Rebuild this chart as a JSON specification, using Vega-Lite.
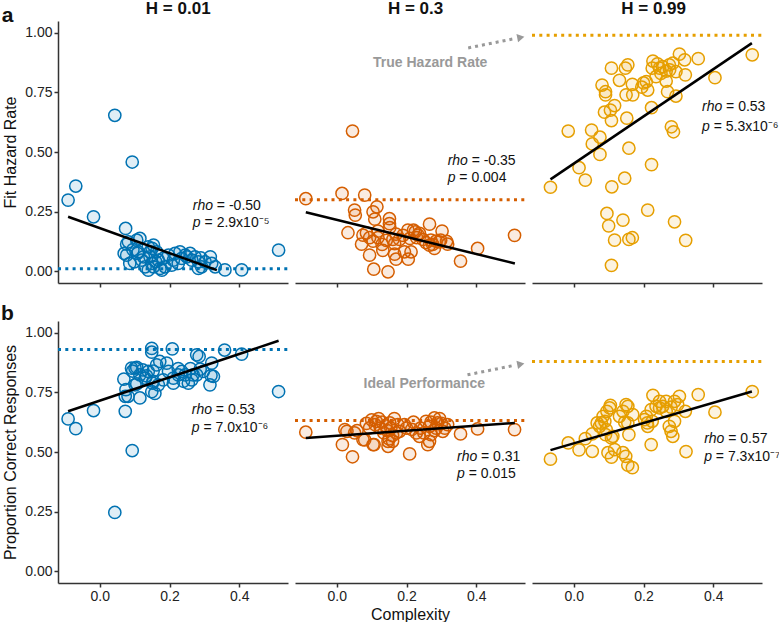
{
"$schema":"https://vega.github.io/schema/vega-lite/v6.json",
"padding":{"left":1,"top":0,"right":2,"bottom":0},
"config":{"font":"Liberation Sans","view":{"stroke":null},
"axis":{"grid":false,"domainColor":"#333333","domainWidth":1.5,"tickColor":"#333333","tickWidth":1.5,"tickSize":4,"labelFontSize":14,"labelColor":"#222222","labelFont":"Liberation Sans","labelPadding":2,"titleFont":"Liberation Sans","titleFontSize":16,"titleFontWeight":"normal","titleColor":"#111111","titlePadding":6},
"text":{"font":"Liberation Sans","fontSize":14,"color":"#111111"}},
"datasets":{
"a1":[{"x":-0.091,"y":0.298},{"x":-0.069,"y":0.357},{"x":-0.018,"y":0.228},{"x":0.043,"y":0.654},{"x":0.093,"y":0.458},{"x":0.074,"y":0.179},{"x":0.082,"y":0.123},{"x":0.077,"y":0.113},{"x":0.106,"y":0.13},{"x":0.115,"y":0.137},{"x":0.11,"y":0.081},{"x":0.108,"y":0.074},{"x":0.099,"y":0.039},{"x":0.12,"y":0.046},{"x":0.139,"y":0.102},{"x":0.144,"y":0.06},{"x":0.149,"y":0.032},{"x":0.13,"y":0.018},{"x":0.139,"y":0.004},{"x":0.154,"y":0.109},{"x":0.163,"y":0.081},{"x":0.168,"y":0.046},{"x":0.173,"y":0.011},{"x":0.182,"y":0.053},{"x":0.187,"y":0.018},{"x":0.197,"y":0.067},{"x":0.211,"y":0.046},{"x":0.216,"y":0.074},{"x":0.23,"y":0.081},{"x":0.235,"y":0.053},{"x":0.245,"y":0.067},{"x":0.259,"y":0.074},{"x":0.264,"y":0.046},{"x":0.273,"y":0.06},{"x":0.283,"y":0.039},{"x":0.292,"y":0.018},{"x":0.302,"y":0.039},{"x":0.317,"y":0.06},{"x":0.321,"y":0.032},{"x":0.331,"y":0.018},{"x":0.077,"y":0.067},{"x":0.086,"y":0.032},{"x":0.07,"y":0.074},{"x":0.154,"y":0.018},{"x":0.178,"y":0.004},{"x":0.283,"y":0.011},{"x":0.206,"y":0.025},{"x":0.225,"y":0.032},{"x":0.144,"y":0.081},{"x":0.359,"y":0.005},{"x":0.407,"y":0.005},{"x":0.513,"y":0.088},{"x":0.15,"y":0.095},{"x":0.16,"y":0.04},{"x":0.25,"y":0.06},{"x":0.29,"y":0.055},{"x":0.125,"y":0.06},{"x":0.095,"y":0.09}],
"a2":[{"x":-0.089,"y":0.304},{"x":0.015,"y":0.326},{"x":0.045,"y":0.588},{"x":0.032,"y":0.161},{"x":0.051,"y":0.256},{"x":0.053,"y":0.235},{"x":0.08,"y":0.319},{"x":0.104,"y":0.249},{"x":0.115,"y":0.27},{"x":0.109,"y":0.218},{"x":0.071,"y":0.113},{"x":0.094,"y":0.067},{"x":0.106,"y":0.008},{"x":0.147,"y":-0.003},{"x":0.151,"y":0.22},{"x":0.151,"y":0.199},{"x":0.152,"y":0.183},{"x":0.17,"y":0.155},{"x":0.166,"y":0.071},{"x":0.17,"y":0.05},{"x":0.205,"y":0.05},{"x":0.194,"y":0.081},{"x":0.213,"y":0.081},{"x":0.204,"y":0.172},{"x":0.225,"y":0.165},{"x":0.237,"y":0.158},{"x":0.266,"y":0.197},{"x":0.302,"y":0.168},{"x":0.266,"y":0.109},{"x":0.28,"y":0.095},{"x":0.294,"y":0.123},{"x":0.318,"y":0.113},{"x":0.355,"y":0.042},{"x":0.404,"y":0.095},{"x":0.51,"y":0.15},{"x":0.085,"y":0.16},{"x":0.094,"y":0.14},{"x":0.104,"y":0.126},{"x":0.118,"y":0.14},{"x":0.13,"y":0.112},{"x":0.132,"y":0.087},{"x":0.142,"y":0.129},{"x":0.161,"y":0.133},{"x":0.166,"y":0.115},{"x":0.18,"y":0.133},{"x":0.22,"y":0.172},{"x":0.233,"y":0.151},{"x":0.247,"y":0.133},{"x":0.256,"y":0.119},{"x":0.275,"y":0.112},{"x":0.285,"y":0.126},{"x":0.118,"y":0.168},{"x":0.075,"y":0.151},{"x":0.19,"y":0.15},{"x":0.21,"y":0.137},{"x":0.229,"y":0.14},{"x":0.298,"y":0.13},{"x":0.315,"y":0.125},{"x":0.27,"y":0.13}],
"a3":[{"x":-0.067,"y":0.352},{"x":-0.016,"y":0.588},{"x":0.015,"y":0.434},{"x":0.033,"y":0.382},{"x":0.051,"y":0.592},{"x":0.053,"y":0.534},{"x":0.075,"y":0.562},{"x":0.075,"y":0.49},{"x":0.081,"y":0.781},{"x":0.091,"y":0.753},{"x":0.091,"y":0.74},{"x":0.088,"y":0.667},{"x":0.105,"y":0.676},{"x":0.108,"y":0.632},{"x":0.117,"y":0.695},{"x":0.108,"y":0.852},{"x":0.131,"y":0.801},{"x":0.148,"y":0.852},{"x":0.155,"y":0.866},{"x":0.15,"y":0.74},{"x":0.168,"y":0.784},{"x":0.169,"y":0.74},{"x":0.152,"y":0.642},{"x":0.158,"y":0.516},{"x":0.146,"y":0.39},{"x":0.109,"y":0.354},{"x":0.095,"y":0.242},{"x":0.1,"y":0.19},{"x":0.141,"y":0.214},{"x":0.117,"y":0.13},{"x":0.158,"y":0.133},{"x":0.168,"y":0.14},{"x":0.108,"y":0.024},{"x":0.212,"y":0.256},{"x":0.223,"y":0.447},{"x":0.223,"y":0.686},{"x":0.195,"y":0.772},{"x":0.208,"y":0.795},{"x":0.212,"y":0.76},{"x":0.227,"y":0.882},{"x":0.225,"y":0.852},{"x":0.236,"y":0.816},{"x":0.246,"y":0.852},{"x":0.255,"y":0.858},{"x":0.265,"y":0.798},{"x":0.269,"y":0.753},{"x":0.274,"y":0.866},{"x":0.284,"y":0.873},{"x":0.293,"y":0.837},{"x":0.303,"y":0.911},{"x":0.318,"y":0.887},{"x":0.293,"y":0.735},{"x":0.32,"y":0.824},{"x":0.28,"y":0.606},{"x":0.286,"y":0.585},{"x":0.289,"y":0.207},{"x":0.321,"y":0.129},{"x":0.357,"y":0.892},{"x":0.405,"y":0.812},{"x":0.512,"y":0.908},{"x":0.265,"y":0.84},{"x":0.25,"y":0.83},{"x":0.275,"y":0.845},{"x":0.2,"y":0.79},{"x":0.24,"y":0.87}],
"b1":[{"x":-0.091,"y":0.639},{"x":-0.069,"y":0.598},{"x":-0.018,"y":0.674},{"x":0.043,"y":0.246},{"x":0.093,"y":0.506},{"x":0.073,"y":0.671},{"x":0.073,"y":0.734},{"x":0.069,"y":0.806},{"x":0.075,"y":0.762},{"x":0.094,"y":0.84},{"x":0.101,"y":0.852},{"x":0.106,"y":0.855},{"x":0.115,"y":0.727},{"x":0.106,"y":0.786},{"x":0.149,"y":0.935},{"x":0.149,"y":0.919},{"x":0.208,"y":0.933},{"x":0.358,"y":0.928},{"x":0.407,"y":0.911},{"x":0.513,"y":0.754},{"x":0.153,"y":0.84},{"x":0.163,"y":0.866},{"x":0.172,"y":0.88},{"x":0.192,"y":0.873},{"x":0.197,"y":0.838},{"x":0.211,"y":0.81},{"x":0.211,"y":0.789},{"x":0.225,"y":0.824},{"x":0.235,"y":0.838},{"x":0.24,"y":0.797},{"x":0.264,"y":0.803},{"x":0.268,"y":0.824},{"x":0.285,"y":0.901},{"x":0.288,"y":0.848},{"x":0.297,"y":0.838},{"x":0.319,"y":0.821},{"x":0.321,"y":0.873},{"x":0.134,"y":0.82},{"x":0.139,"y":0.838},{"x":0.149,"y":0.753},{"x":0.151,"y":0.789},{"x":0.158,"y":0.746},{"x":0.168,"y":0.782},{"x":0.123,"y":0.845},{"x":0.115,"y":0.824},{"x":0.153,"y":0.797},{"x":0.245,"y":0.824},{"x":0.254,"y":0.789},{"x":0.278,"y":0.824},{"x":0.182,"y":0.803},{"x":0.091,"y":0.852},{"x":0.081,"y":0.734},{"x":0.13,"y":0.81},{"x":0.316,"y":0.782},{"x":0.326,"y":0.817},{"x":0.278,"y":0.908},{"x":0.225,"y":0.85},{"x":0.26,"y":0.85},{"x":0.101,"y":0.782}],
"b2":[{"x":-0.089,"y":0.583},{"x":0.016,"y":0.531},{"x":0.029,"y":0.587},{"x":0.045,"y":0.48},{"x":0.051,"y":0.58},{"x":0.058,"y":0.59},{"x":0.08,"y":0.551},{"x":0.107,"y":0.531},{"x":0.209,"y":0.492},{"x":0.266,"y":0.545},{"x":0.27,"y":0.573},{"x":0.318,"y":0.615},{"x":0.355,"y":0.576},{"x":0.404,"y":0.597},{"x":0.51,"y":0.594},{"x":0.023,"y":0.594},{"x":0.075,"y":0.552},{"x":0.094,"y":0.601},{"x":0.104,"y":0.531},{"x":0.113,"y":0.629},{"x":0.147,"y":0.524},{"x":0.147,"y":0.545},{"x":0.152,"y":0.622},{"x":0.171,"y":0.58},{"x":0.18,"y":0.587},{"x":0.194,"y":0.615},{"x":0.228,"y":0.58},{"x":0.237,"y":0.566},{"x":0.256,"y":0.629},{"x":0.266,"y":0.608},{"x":0.28,"y":0.643},{"x":0.289,"y":0.622},{"x":0.261,"y":0.531},{"x":0.304,"y":0.587},{"x":0.085,"y":0.62},{"x":0.1,"y":0.635},{"x":0.11,"y":0.615},{"x":0.12,"y":0.64},{"x":0.125,"y":0.6},{"x":0.13,"y":0.625},{"x":0.14,"y":0.61},{"x":0.145,"y":0.59},{"x":0.155,"y":0.6},{"x":0.16,"y":0.57},{"x":0.165,"y":0.64},{"x":0.175,"y":0.615},{"x":0.2,"y":0.6},{"x":0.215,"y":0.595},{"x":0.22,"y":0.625},{"x":0.24,"y":0.6},{"x":0.25,"y":0.58},{"x":0.27,"y":0.625},{"x":0.285,"y":0.6},{"x":0.295,"y":0.64},{"x":0.3,"y":0.62},{"x":0.31,"y":0.6},{"x":0.15,"y":0.555},{"x":0.16,"y":0.545},{"x":0.135,"y":0.58},{"x":0.28,"y":0.59}],
"b3":[{"x":-0.067,"y":0.47},{"x":-0.016,"y":0.538},{"x":0.015,"y":0.509},{"x":0.033,"y":0.556},{"x":0.053,"y":0.503},{"x":0.053,"y":0.576},{"x":0.074,"y":0.608},{"x":0.084,"y":0.65},{"x":0.089,"y":0.629},{"x":0.079,"y":0.622},{"x":0.095,"y":0.671},{"x":0.105,"y":0.696},{"x":0.093,"y":0.594},{"x":0.108,"y":0.559},{"x":0.098,"y":0.497},{"x":0.108,"y":0.478},{"x":0.117,"y":0.51},{"x":0.112,"y":0.566},{"x":0.131,"y":0.65},{"x":0.15,"y":0.699},{"x":0.155,"y":0.692},{"x":0.169,"y":0.657},{"x":0.155,"y":0.622},{"x":0.146,"y":0.625},{"x":0.158,"y":0.573},{"x":0.141,"y":0.497},{"x":0.149,"y":0.482},{"x":0.155,"y":0.445},{"x":0.168,"y":0.434},{"x":0.203,"y":0.636},{"x":0.211,"y":0.622},{"x":0.212,"y":0.608},{"x":0.225,"y":0.629},{"x":0.227,"y":0.738},{"x":0.222,"y":0.531},{"x":0.236,"y":0.692},{"x":0.246,"y":0.685},{"x":0.255,"y":0.692},{"x":0.265,"y":0.671},{"x":0.279,"y":0.688},{"x":0.289,"y":0.713},{"x":0.303,"y":0.734},{"x":0.32,"y":0.671},{"x":0.289,"y":0.629},{"x":0.279,"y":0.587},{"x":0.284,"y":0.566},{"x":0.322,"y":0.502},{"x":0.357,"y":0.741},{"x":0.405,"y":0.667},{"x":0.512,"y":0.754},{"x":0.265,"y":0.713},{"x":0.222,"y":0.678},{"x":0.208,"y":0.65},{"x":0.103,"y":0.685},{"x":0.091,"y":0.573},{"x":0.141,"y":0.671},{"x":0.274,"y":0.608},{"x":0.246,"y":0.713},{"x":0.298,"y":0.699},{"x":0.067,"y":0.622}]
},
"columns":3,
"spacing":{"row":38,"column":7},
"bounds":"flush",
"concat":[
{"width":230,"height":262,
"encoding":{"x":{"field":"x","type":"quantitative","scale":{"domain":[-0.12,0.54],"nice":false,"zero":false},"axis":{"values":[0,0.2,0.4],"format":".1f","labels":false,"title":null}},
"y":{"field":"y","type":"quantitative","scale":{"domain":[-0.05,1.05],"nice":false,"zero":false},"axis":{"values":[0,0.25,0.5,0.75,1],"format":".2f","title":"Fit Hazard Rate"}}},
"layer":[
{"data":{"values":[{"x":-0.12,"x2":0.54,"y":0.01}]},"mark":{"type":"rule","color":"#0072B2","strokeWidth":3,"strokeDash":[3,4.3]},"encoding":{"x2":{"field":"x2"}}},
{"data":{"name":"a1"},"mark":{"type":"circle","size":150,"fill":"#0072B2","fillOpacity":0.12,"stroke":"#0072B2","strokeWidth":1.5,"opacity":1},"encoding":{}},
{"data":{"values":[{"x":-0.091,"y":0.228},{"x":0.336,"y":0.004}]},"mark":{"type":"line","color":"#000000","strokeWidth":2.5},"encoding":{}},
{"data":{"values":[{"x":0.267,"y":0.273,"t":"rho"},{"x":0.267,"y":0.202,"t":"p"}]},"mark":{"type":"text","align":"left","baseline":"middle","fontStyle":"italic"},"encoding":{"text":{"field":"t"}}},
{"data":{"values":[{"x":0.267,"y":0.273,"t":"= -0.50"}]},"mark":{"type":"text","align":"left","baseline":"middle","dx":24},"encoding":{"text":{"field":"t"}}},
{"data":{"values":[{"x":0.267,"y":0.202,"t":"= 2.9x10⁻⁵"}]},"mark":{"type":"text","align":"left","baseline":"middle","dx":11.7},"encoding":{"text":{"field":"t"}}},
{"data":{"values":[{"x":0.225,"y":1.1,"t":"H = 0.01"}]},"mark":{"type":"text","align":"center","baseline":"middle","fontSize":17,"fontWeight":"bold"},"encoding":{"text":{"field":"t"}}},
{"data":{"values":[{"x":-0.265,"y":1.07,"t":"a"}]},"mark":{"type":"text","align":"center","baseline":"middle","fontSize":21,"fontWeight":"bold"},"encoding":{"text":{"field":"t"}}}
]},
{"width":230,"height":262,
"encoding":{"x":{"field":"x","type":"quantitative","scale":{"domain":[-0.12,0.54],"nice":false,"zero":false},"axis":{"values":[0,0.2,0.4],"format":".1f","labels":false,"title":null}},
"y":{"field":"y","type":"quantitative","scale":{"domain":[-0.05,1.05],"nice":false,"zero":false},"axis":null}},
"layer":[
{"data":{"values":[{"x":-0.12,"x2":0.54,"y":0.3}]},"mark":{"type":"rule","color":"#D55E00","strokeWidth":3,"strokeDash":[3,4.3]},"encoding":{"x2":{"field":"x2"}}},
{"data":{"name":"a2"},"mark":{"type":"circle","size":150,"fill":"#D55E00","fillOpacity":0.12,"stroke":"#D55E00","strokeWidth":1.5,"opacity":1},"encoding":{}},
{"data":{"values":[{"x":-0.089,"y":0.247},{"x":0.511,"y":0.032}]},"mark":{"type":"line","color":"#000000","strokeWidth":2.5},"encoding":{}},
{"data":{"values":[{"x":0.377,"y":0.937,"x2":0.51,"y2":0.976}]},"mark":{"type":"rule","color":"#999999","strokeWidth":3,"strokeDash":[3,4]},"encoding":{"x2":{"field":"x2"},"y2":{"field":"y2"}}},
{"data":{"values":[{"x":0.528,"y":0.981}]},"mark":{"type":"point","shape":"triangle-right","filled":true,"color":"#999999","size":70,"angle":-11,"opacity":1},"encoding":{}},
{"data":{"values":[{"x":0.268,"y":0.875,"t":"True Hazard Rate"}]},"mark":{"type":"text","align":"center","baseline":"middle","fontWeight":"bold","color":"#999999"},"encoding":{"text":{"field":"t"}}},
{"data":{"values":[{"x":0.318,"y":0.463,"t":"rho"},{"x":0.318,"y":0.392,"t":"p"}]},"mark":{"type":"text","align":"left","baseline":"middle","fontStyle":"italic"},"encoding":{"text":{"field":"t"}}},
{"data":{"values":[{"x":0.318,"y":0.463,"t":"= -0.35"}]},"mark":{"type":"text","align":"left","baseline":"middle","dx":24},"encoding":{"text":{"field":"t"}}},
{"data":{"values":[{"x":0.318,"y":0.392,"t":"= 0.004"}]},"mark":{"type":"text","align":"left","baseline":"middle","dx":11.7},"encoding":{"text":{"field":"t"}}},
{"data":{"values":[{"x":0.226,"y":1.1,"t":"H = 0.3"}]},"mark":{"type":"text","align":"center","baseline":"middle","fontSize":17,"fontWeight":"bold"},"encoding":{"text":{"field":"t"}}}
]},
{"width":230,"height":262,
"encoding":{"x":{"field":"x","type":"quantitative","scale":{"domain":[-0.12,0.54],"nice":false,"zero":false},"axis":{"values":[0,0.2,0.4],"format":".1f","labels":false,"title":null}},
"y":{"field":"y","type":"quantitative","scale":{"domain":[-0.05,1.05],"nice":false,"zero":false},"axis":null}},
"layer":[
{"data":{"values":[{"x":-0.12,"x2":0.54,"y":0.99}]},"mark":{"type":"rule","color":"#E69F00","strokeWidth":3,"strokeDash":[3,4.3]},"encoding":{"x2":{"field":"x2"}}},
{"data":{"name":"a3"},"mark":{"type":"circle","size":150,"fill":"#E69F00","fillOpacity":0.12,"stroke":"#E69F00","strokeWidth":1.5,"opacity":1},"encoding":{}},
{"data":{"values":[{"x":-0.067,"y":0.385},{"x":0.511,"y":0.957}]},"mark":{"type":"line","color":"#000000","strokeWidth":2.5},"encoding":{}},
{"data":{"values":[{"x":0.368,"y":0.688,"t":"rho"},{"x":0.368,"y":0.606,"t":"p"}]},"mark":{"type":"text","align":"left","baseline":"middle","fontStyle":"italic"},"encoding":{"text":{"field":"t"}}},
{"data":{"values":[{"x":0.368,"y":0.688,"t":"= 0.53"}]},"mark":{"type":"text","align":"left","baseline":"middle","dx":24},"encoding":{"text":{"field":"t"}}},
{"data":{"values":[{"x":0.368,"y":0.606,"t":"= 5.3x10⁻⁶"}]},"mark":{"type":"text","align":"left","baseline":"middle","dx":11.7},"encoding":{"text":{"field":"t"}}},
{"data":{"values":[{"x":0.229,"y":1.1,"t":"H = 0.99"}]},"mark":{"type":"text","align":"center","baseline":"middle","fontSize":17,"fontWeight":"bold"},"encoding":{"text":{"field":"t"}}}
]},
{"width":230,"height":262,
"encoding":{"x":{"field":"x","type":"quantitative","scale":{"domain":[-0.12,0.54],"nice":false,"zero":false},"axis":{"values":[0,0.2,0.4],"format":".1f","title":null}},
"y":{"field":"y","type":"quantitative","scale":{"domain":[-0.05,1.05],"nice":false,"zero":false},"axis":{"values":[0,0.25,0.5,0.75,1],"format":".2f","title":"Proportion Correct Responses"}}},
"layer":[
{"data":{"values":[{"x":-0.12,"x2":0.54,"y":0.93}]},"mark":{"type":"rule","color":"#0072B2","strokeWidth":3,"strokeDash":[3,4.3]},"encoding":{"x2":{"field":"x2"}}},
{"data":{"name":"b1"},"mark":{"type":"circle","size":150,"fill":"#0072B2","fillOpacity":0.12,"stroke":"#0072B2","strokeWidth":1.5,"opacity":1},"encoding":{}},
{"data":{"values":[{"x":-0.091,"y":0.671},{"x":0.513,"y":0.967}]},"mark":{"type":"line","color":"#000000","strokeWidth":2.5},"encoding":{}},
{"data":{"values":[{"x":0.264,"y":0.678,"t":"rho"},{"x":0.264,"y":0.601,"t":"p"}]},"mark":{"type":"text","align":"left","baseline":"middle","fontStyle":"italic"},"encoding":{"text":{"field":"t"}}},
{"data":{"values":[{"x":0.264,"y":0.678,"t":"= 0.53"}]},"mark":{"type":"text","align":"left","baseline":"middle","dx":24},"encoding":{"text":{"field":"t"}}},
{"data":{"values":[{"x":0.264,"y":0.601,"t":"= 7.0x10⁻⁶"}]},"mark":{"type":"text","align":"left","baseline":"middle","dx":11.7},"encoding":{"text":{"field":"t"}}},
{"data":{"values":[{"x":-0.265,"y":1.08,"t":"b"}]},"mark":{"type":"text","align":"center","baseline":"middle","fontSize":21,"fontWeight":"bold"},"encoding":{"text":{"field":"t"}}}
]},
{"width":230,"height":262,
"encoding":{"x":{"field":"x","type":"quantitative","scale":{"domain":[-0.12,0.54],"nice":false,"zero":false},"axis":{"values":[0,0.2,0.4],"format":".1f","title":"Complexity","titlePadding":3}},
"y":{"field":"y","type":"quantitative","scale":{"domain":[-0.05,1.05],"nice":false,"zero":false},"axis":null}},
"layer":[
{"data":{"values":[{"x":-0.12,"x2":0.54,"y":0.632}]},"mark":{"type":"rule","color":"#D55E00","strokeWidth":3,"strokeDash":[3,4.3]},"encoding":{"x2":{"field":"x2"}}},
{"data":{"name":"b2"},"mark":{"type":"circle","size":150,"fill":"#D55E00","fillOpacity":0.12,"stroke":"#D55E00","strokeWidth":1.5,"opacity":1},"encoding":{}},
{"data":{"values":[{"x":-0.089,"y":0.559},{"x":0.511,"y":0.622}]},"mark":{"type":"line","color":"#000000","strokeWidth":2.5},"encoding":{}},
{"data":{"values":[{"x":0.375,"y":0.824,"x2":0.51,"y2":0.864}]},"mark":{"type":"rule","color":"#999999","strokeWidth":3,"strokeDash":[3,4]},"encoding":{"x2":{"field":"x2"},"y2":{"field":"y2"}}},
{"data":{"values":[{"x":0.528,"y":0.869}]},"mark":{"type":"point","shape":"triangle-right","filled":true,"color":"#999999","size":70,"angle":-11,"opacity":1},"encoding":{}},
{"data":{"values":[{"x":0.251,"y":0.787,"t":"Ideal Performance"}]},"mark":{"type":"text","align":"center","baseline":"middle","fontWeight":"bold","color":"#999999"},"encoding":{"text":{"field":"t"}}},
{"data":{"values":[{"x":0.345,"y":0.48,"t":"rho"},{"x":0.345,"y":0.409,"t":"p"}]},"mark":{"type":"text","align":"left","baseline":"middle","fontStyle":"italic"},"encoding":{"text":{"field":"t"}}},
{"data":{"values":[{"x":0.345,"y":0.48,"t":"= 0.31"}]},"mark":{"type":"text","align":"left","baseline":"middle","dx":24},"encoding":{"text":{"field":"t"}}},
{"data":{"values":[{"x":0.345,"y":0.409,"t":"= 0.015"}]},"mark":{"type":"text","align":"left","baseline":"middle","dx":11.7},"encoding":{"text":{"field":"t"}}}
]},
{"width":230,"height":262,
"encoding":{"x":{"field":"x","type":"quantitative","scale":{"domain":[-0.12,0.54],"nice":false,"zero":false},"axis":{"values":[0,0.2,0.4],"format":".1f","title":null}},
"y":{"field":"y","type":"quantitative","scale":{"domain":[-0.05,1.05],"nice":false,"zero":false},"axis":null}},
"layer":[
{"data":{"values":[{"x":-0.12,"x2":0.54,"y":0.88}]},"mark":{"type":"rule","color":"#E69F00","strokeWidth":3,"strokeDash":[3,4.3]},"encoding":{"x2":{"field":"x2"}}},
{"data":{"name":"b3"},"mark":{"type":"circle","size":150,"fill":"#E69F00","fillOpacity":0.12,"stroke":"#E69F00","strokeWidth":1.5,"opacity":1},"encoding":{}},
{"data":{"values":[{"x":-0.067,"y":0.508},{"x":0.511,"y":0.754}]},"mark":{"type":"line","color":"#000000","strokeWidth":2.5},"encoding":{}},
{"data":{"values":[{"x":0.374,"y":0.555,"t":"rho"},{"x":0.374,"y":0.478,"t":"p"}]},"mark":{"type":"text","align":"left","baseline":"middle","fontStyle":"italic"},"encoding":{"text":{"field":"t"}}},
{"data":{"values":[{"x":0.374,"y":0.555,"t":"= 0.57"}]},"mark":{"type":"text","align":"left","baseline":"middle","dx":24},"encoding":{"text":{"field":"t"}}},
{"data":{"values":[{"x":0.374,"y":0.478,"t":"= 7.3x10⁻⁷"}]},"mark":{"type":"text","align":"left","baseline":"middle","dx":11.7},"encoding":{"text":{"field":"t"}}}
]}
]
}
